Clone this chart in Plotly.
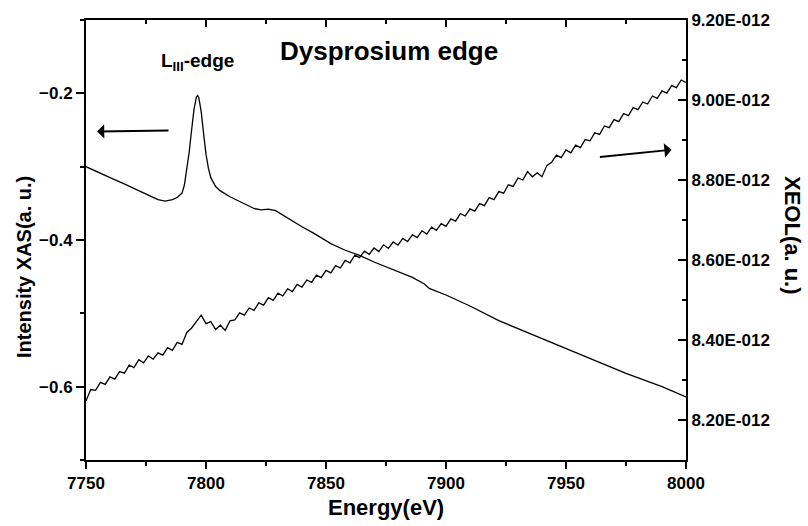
import plotly.graph_objects as go

# ---------------- data ----------------
# XAS intensity (left axis)
xas_energy = [7750, 7755, 7760, 7765, 7770, 7775, 7780, 7783, 7786, 7788, 7790, 7791,
              7792, 7793, 7794, 7795, 7796, 7796.5, 7797, 7798, 7799, 7800, 7801, 7802,
              7804, 7806, 7810, 7814, 7817, 7820, 7823, 7826, 7829, 7832, 7835, 7840,
              7845, 7852, 7858, 7864, 7870, 7876, 7881, 7886, 7891, 7893, 7900, 7910,
              7922, 7930, 7941, 7950, 7964, 7975, 7990, 8000]
xas_value = [-0.300, -0.308, -0.315, -0.322, -0.330, -0.337, -0.345, -0.347, -0.345, -0.342,
             -0.336, -0.325, -0.305, -0.280, -0.250, -0.222, -0.205, -0.203, -0.206, -0.225,
             -0.255, -0.283, -0.302, -0.315, -0.327, -0.333, -0.341, -0.347, -0.352, -0.357,
             -0.359, -0.358, -0.360, -0.366, -0.373, -0.382, -0.391, -0.405, -0.414, -0.421,
             -0.430, -0.438, -0.444, -0.451, -0.460, -0.466, -0.475, -0.490, -0.510, -0.521,
             -0.536, -0.548, -0.567, -0.582, -0.600, -0.614]

# XEOL (right axis), values in units of 1E-012
xeol_energy = [7750, 7752, 7754, 7756, 7758, 7760, 7762, 7764, 7766, 7768, 7770, 7772,
               7774, 7776, 7778, 7780, 7782, 7784, 7786, 7788, 7790, 7792, 7794, 7796,
               7798, 7800, 7802, 7804, 7806, 7808, 7810, 7812, 7814, 7816, 7818, 7820,
               7822, 7824, 7826, 7828, 7830, 7832, 7834, 7836, 7838, 7840, 7842, 7844,
               7846, 7848, 7850, 7852, 7854, 7856, 7858, 7860, 7862, 7864, 7866, 7868,
               7870, 7872, 7874, 7876, 7878, 7880, 7882, 7884, 7886, 7888, 7890, 7892,
               7894, 7896, 7898, 7900, 7902, 7904, 7906, 7908, 7910, 7912, 7914, 7916,
               7918, 7920, 7922, 7924, 7926, 7928, 7930, 7932, 7934, 7936, 7938, 7940,
               7942, 7944, 7946, 7948, 7950, 7952, 7954, 7956, 7958, 7960, 7962, 7964,
               7966, 7968, 7970, 7972, 7974, 7976, 7978, 7980, 7982, 7984, 7986, 7988,
               7990, 7992, 7994, 7996, 7998, 8000]
xeol_e12 = [8.248, 8.276, 8.274, 8.294, 8.289, 8.308, 8.302, 8.321, 8.317, 8.337, 8.331, 8.351,
            8.343, 8.360, 8.352, 8.368, 8.362, 8.381, 8.374, 8.394, 8.389, 8.419, 8.430, 8.446,
            8.462, 8.441, 8.446, 8.426, 8.437, 8.424, 8.448, 8.450, 8.468, 8.462, 8.480, 8.474,
            8.493, 8.487, 8.506, 8.499, 8.517, 8.510, 8.528, 8.521, 8.539, 8.532, 8.550, 8.544,
            8.562, 8.556, 8.574, 8.568, 8.586, 8.580, 8.599, 8.593, 8.612, 8.606, 8.622, 8.614,
            8.630, 8.621, 8.638, 8.629, 8.645, 8.637, 8.654, 8.646, 8.663, 8.656, 8.673, 8.665,
            8.682, 8.674, 8.691, 8.684, 8.703, 8.697, 8.716, 8.710, 8.728, 8.722, 8.741, 8.736,
            8.756, 8.751, 8.771, 8.767, 8.788, 8.784, 8.805, 8.800, 8.821, 8.808, 8.818, 8.808,
            8.836, 8.844, 8.862, 8.856, 8.875, 8.868, 8.887, 8.881, 8.901, 8.898, 8.918, 8.914,
            8.935, 8.931, 8.951, 8.946, 8.966, 8.961, 8.981, 8.976, 8.995, 8.990, 9.010, 9.004,
            9.023, 9.017, 9.036, 9.031, 9.050, 9.044]

right_tickvals_e12 = [8.2, 8.4, 8.6, 8.8, 9.0, 9.2]
right_ticktext = ["8.20E-012", "8.40E-012", "8.60E-012", "8.80E-012", "9.00E-012", "9.20E-012"]
right_minor_e12 = [8.1, 8.3, 8.5, 8.7, 8.9, 9.1]

title_text = "Dysprosium edge"
edge_label = "L<sub>III</sub>-edge"
x_title = "Energy(eV)"
y_title = "Intensity XAS(a. u.)"
y2_title = "XEOL(a. u.)"

# ---------------- figure ----------------
FONT = "Arial, 'Liberation Sans', Helvetica, sans-serif"
tickfont = dict(family=FONT, size=17, color="black", weight="bold")

fig = go.Figure()
fig.add_trace(go.Scatter(x=xas_energy, y=xas_value, mode="lines",
                         line=dict(color="black", width=1.3), xaxis="x", yaxis="y",
                         showlegend=False, hoverinfo="skip"))
fig.add_trace(go.Scatter(x=xeol_energy, y=[v * 1e-12 for v in xeol_e12], mode="lines",
                         line=dict(color="black", width=1.3), xaxis="x2", yaxis="y2",
                         showlegend=False, hoverinfo="skip"))

L, R, T, B = 86, 122, 20, 66
W, H = 808, 526
pw, ph = W - L - R, H - T - B


def px(xp):
    return (xp - L) / pw


def py(yp):
    return (H - B - yp) / ph


fig.update_layout(
    width=W, height=H,
    margin=dict(l=L, r=R, t=T, b=B, pad=0),
    plot_bgcolor="white", paper_bgcolor="white",
    xaxis=dict(range=[7750, 8000], tickmode="linear", tick0=7750, dtick=50,
               ticks="outside", ticklen=7, tickwidth=1.5, tickcolor="black",
               minor=dict(ticks="outside", ticklen=4, dtick=25, tick0=7750, tickcolor="black", tickwidth=1.5),
               showline=True, linecolor="black", linewidth=2, mirror=False,
               showgrid=False, zeroline=False, tickfont=tickfont),
    xaxis2=dict(range=[7750, 8000], overlaying="x", side="top", anchor="y",
                tickmode="linear", tick0=7750, dtick=50,
                ticks="inside", ticklen=7, tickwidth=1.5, tickcolor="black",
                minor=dict(ticks="inside", ticklen=4, dtick=25, tick0=7750, tickcolor="black", tickwidth=1.5),
                showticklabels=False, showline=True, linecolor="black", linewidth=2,
                showgrid=False, zeroline=False),
    yaxis=dict(range=[-0.7, -0.1], tickmode="linear", tick0=-0.6, dtick=0.2,
               ticks="outside", ticklen=8, tickwidth=1.5, tickcolor="black",
               minor=dict(ticks="outside", ticklen=4, dtick=0.1, tick0=-0.7, tickcolor="black", tickwidth=1.5),
               showline=True, linecolor="black", linewidth=2,
               showgrid=False, zeroline=False, tickfont=tickfont, tickformat=".1f"),
    yaxis2=dict(range=[8.1e-12, 9.2e-12], overlaying="y", side="right", anchor="x",
                tickmode="array", tickvals=[v * 1e-12 for v in right_tickvals_e12],
                ticktext=right_ticktext,
                ticks="inside", ticklen=8, tickwidth=1.5, tickcolor="black",
                minor=dict(ticks="inside", ticklen=4, tickmode="array",
                           tickvals=[v * 1e-12 for v in right_minor_e12],
                           tickcolor="black", tickwidth=1.5),
                showline=True, linecolor="black", linewidth=2,
                showgrid=False, zeroline=False, tickfont=tickfont),
)

ann_font = dict(family=FONT, color="black", weight="bold")
fig.add_annotation(text=title_text, xref="paper", yref="paper", x=px(389), y=py(51),
                   xanchor="center", yanchor="middle", showarrow=False,
                   font=dict(ann_font, size=26))
fig.add_annotation(text=edge_label, xref="paper", yref="paper", x=px(197), y=py(62),
                   xanchor="center", yanchor="middle", showarrow=False,
                   font=dict(ann_font, size=19))
fig.add_annotation(text=x_title, xref="paper", yref="paper", x=px(386), y=py(507),
                   xanchor="center", yanchor="middle", showarrow=False,
                   font=dict(ann_font, size=22))
fig.add_annotation(text=y_title, xref="paper", yref="paper", x=px(24), y=py(267),
                   xanchor="center", yanchor="middle", showarrow=False, textangle=-90,
                   font=dict(ann_font, size=20))
fig.add_annotation(text=y2_title, xref="paper", yref="paper", x=px(793), y=py(236),
                   xanchor="center", yanchor="middle", showarrow=False, textangle=90,
                   font=dict(ann_font, size=22))

# arrows (data coordinates of left axis)
fig.add_annotation(x=7754.6, y=-0.252, ax=7785, ay=-0.2506, xref="x", yref="y",
                   axref="x", ayref="y", text="", showarrow=True,
                   arrowhead=1, arrowsize=1.2, arrowwidth=2, arrowcolor="black")
fig.add_annotation(x=7994.0, y=-0.2769, ax=7963.5, ay=-0.2869, xref="x", yref="y",
                   axref="x", ayref="y", text="", showarrow=True,
                   arrowhead=1, arrowsize=1.2, arrowwidth=2, arrowcolor="black")

fig.write_html("out.html")
